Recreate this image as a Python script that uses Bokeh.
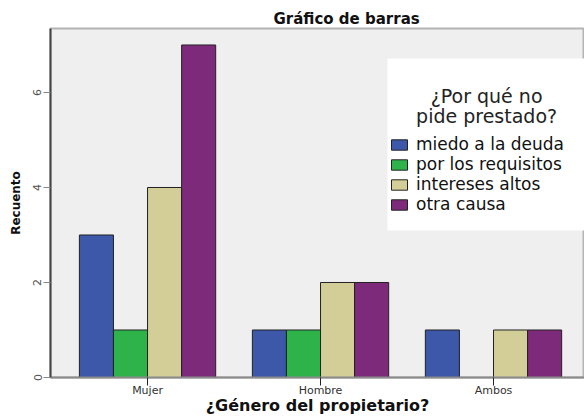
from bokeh.plotting import figure
from bokeh.models import (ColumnDataSource, Range1d, FixedTicker, Legend, LegendItem,
                          BoxAnnotation, Label, Title)
from bokeh.embed import file_html
from bokeh.resources import INLINE

# Counts per owner gender, grouped by reason for not borrowing
categories = ["Mujer", "Hombre", "Ambos"]
series_names = ["miedo a la deuda", "por los requisitos", "intereses altos", "otra causa"]
miedo = [3, 1, 1]
requisitos = [1, 1, 0]
intereses = [4, 2, 1]
otra = [7, 2, 1]
y_ticks = [0, 2, 4, 6]

colors = ["#3D57A9", "#2DB34A", "#D3CE97", "#7D2A7B"]
series = [miedo, requisitos, intereses, otra]

BAR_W = 0.197
FONT = "DejaVu Sans"

p = figure(width=584, height=417, output_backend="svg", toolbar_location=None,
           x_range=Range1d(-0.561, 2.526), y_range=Range1d(0, 7.347),
           min_border_left=50, min_border_right=0, min_border_top=28,
           min_border_bottom=40)
p.background_fill_color = "#EFEFEF"
p.border_fill_color = "white"
p.outline_line_color = "#B4B4B4"
p.outline_line_width = 2
p.xgrid.visible = False
p.ygrid.visible = False

# legend background panel
p.add_layout(BoxAnnotation(left=1.387, top=6.716, bottom=3.095, fill_color="white",
                           fill_alpha=1.0, line_color=None, level="underlay"))

items = []
for k, (vals, col, name) in enumerate(zip(series, colors, series_names)):
    off = (k - 1.5) * BAR_W
    xs = [i + off for i, v in enumerate(vals) if v > 0]
    ys = [v for v in vals if v > 0]
    src = ColumnDataSource(dict(x=xs, top=ys))
    r = p.vbar(x="x", top="top", width=BAR_W, bottom=0, source=src,
               fill_color=col, line_color="#222222", line_width=1)
    items.append(LegendItem(label=name, renderers=[r]))

legend = Legend(items=items, location=(339, 163), padding=0, margin=0,
                background_fill_alpha=0, border_line_color=None,
                glyph_width=20, glyph_height=13, label_standoff=7,
                label_text_font=FONT, label_text_font_size="17px",
                label_text_color="#111111", label_height=17, spacing=0)
p.add_layout(legend)

p.add_layout(Label(x=1.96, y=5.72, text="¿Por qué no\npide prestado?",
                   text_align="center", text_baseline="middle",
                   text_font=FONT, text_font_size="19px", text_color="#222222",
                   text_line_height=0.9))

# title
p.add_layout(Title(text="Gráfico de barras", align="left", offset=223,
                   text_font=FONT, text_font_size="15px", text_font_style="bold",
                   text_color="#111111", standoff=2), "above")

# x axis
xa = p.xaxis[0]
xa.ticker = FixedTicker(ticks=list(range(len(categories))))
xa.major_label_overrides = {i: c for i, c in enumerate(categories)}
xa.major_tick_in = 0
xa.major_tick_out = 8
xa.minor_tick_in = 0
xa.minor_tick_out = 0
xa.major_tick_line_color = "#222222"
xa.axis_line_color = "#8A8A8A"
xa.axis_line_width = 2
xa.major_label_text_font = FONT
xa.major_label_text_font_size = "11px"
xa.major_label_text_color = "#333333"
xa.major_label_standoff = -2
xa.axis_label = "¿Género del propietario?"
xa.axis_label_text_font = FONT
xa.axis_label_text_font_size = "16px"
xa.axis_label_text_font_style = "bold"
xa.axis_label_text_color = "#111111"
xa.axis_label_standoff = -4

# y axis
ya = p.yaxis[0]
ya.ticker = FixedTicker(ticks=y_ticks)
ya.major_label_orientation = "vertical"
ya.major_tick_in = 0
ya.major_tick_out = 7
ya.minor_tick_in = 0
ya.minor_tick_out = 0
ya.major_tick_line_color = "#888888"
ya.axis_line_color = "#444444"
ya.axis_line_width = 2
ya.major_label_text_font = FONT
ya.major_label_text_font_size = "11px"
ya.major_label_text_color = "#555555"
ya.major_label_standoff = 2
ya.axis_label = "Recuento"
ya.axis_label_text_font = FONT
ya.axis_label_text_font_size = "12px"
ya.axis_label_text_font_style = "bold"
ya.axis_label_text_color = "#111111"
ya.axis_label_standoff = 8

open("out.html", "w").write(file_html(p, INLINE))
